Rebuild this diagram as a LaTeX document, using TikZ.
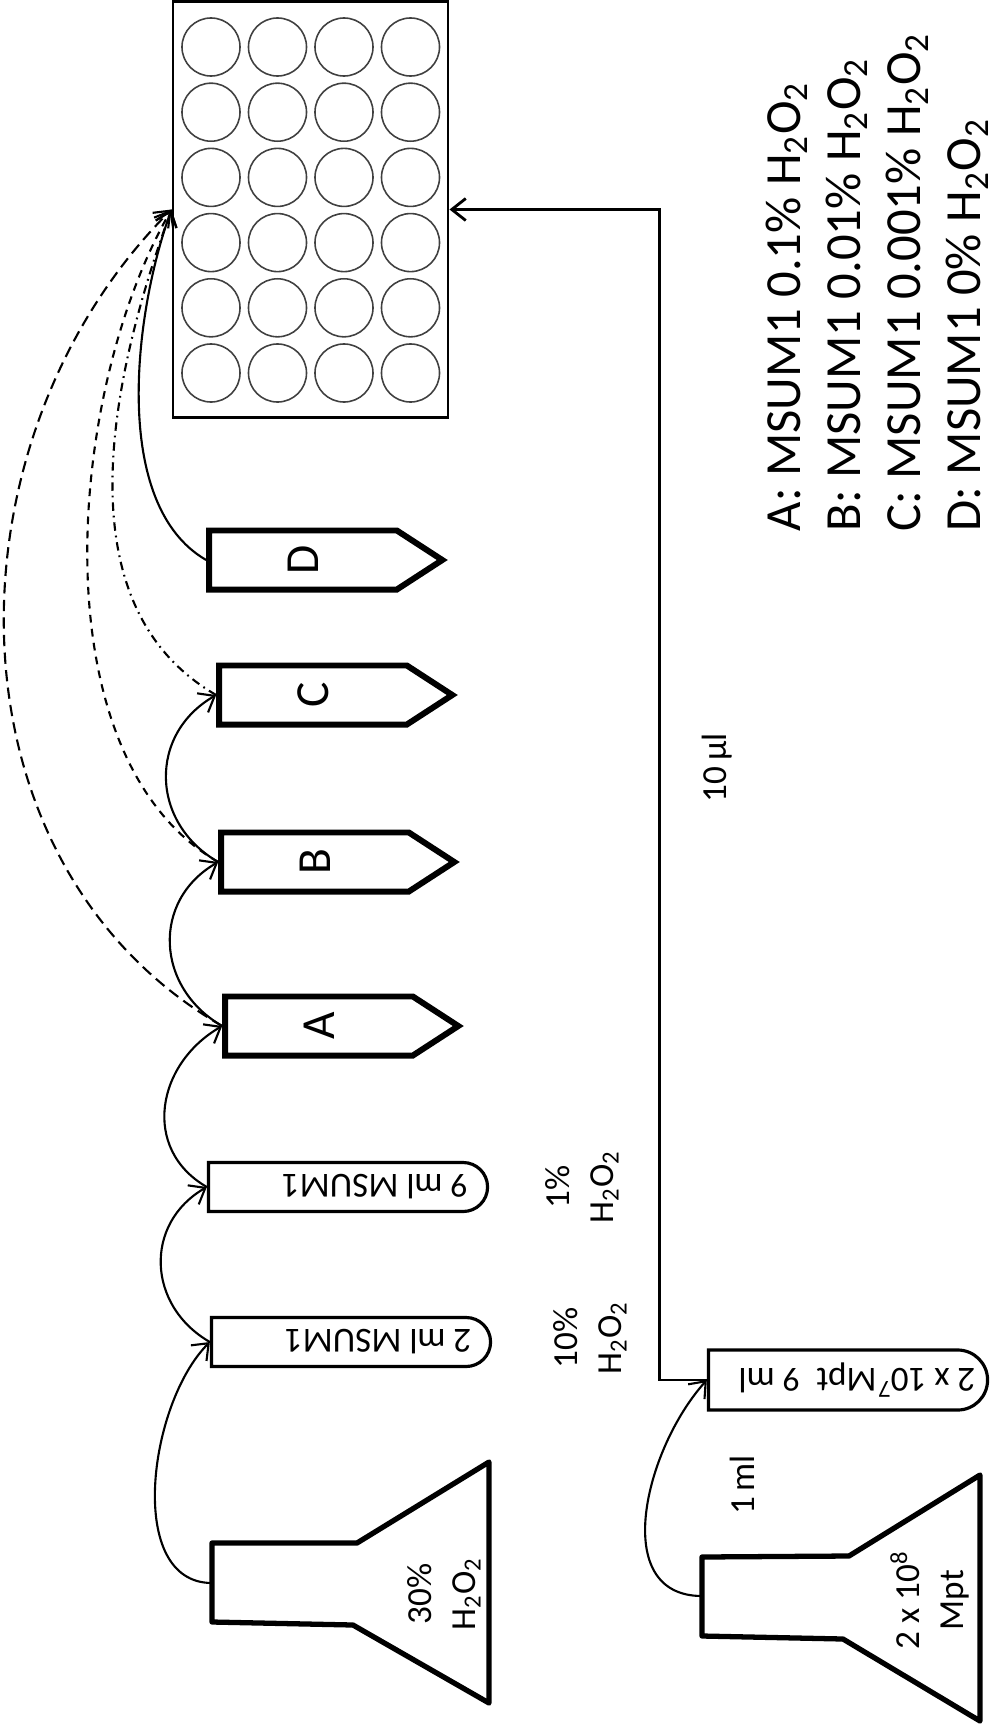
\documentclass[tikz,border=0pt]{standalone}
\usepackage{fontspec}
\setmainfont{Carlito}
\usetikzlibrary{shapes.symbols, shapes.misc, arrows.meta, positioning}
\tikzset{
  plate/.style={rectangle, draw, line width=0.8pt, minimum width=2.75cm,
                minimum height=4.15cm, inner sep=0pt},
  well/.style={draw=black!75, line width=0.45pt},
  ptube/.style={signal, signal to=east, signal pointer angle=66, draw,
                line width=1.7pt, minimum width=2.33cm, minimum height=0.59cm,
                inner sep=0pt, font=\fontsize{13.5}{16}\selectfont},
  rtube/.style={rounded rectangle, rounded rectangle left arc=none, draw,
                line width=0.9pt, minimum width=2.79cm, minimum height=0.49cm,
                inner sep=0pt},
  tubetext/.style={inner sep=0pt, font=\fontsize{10}{12}\selectfont},
  flask/.style={line width=1.5pt, line join=round},
  lbl/.style={rotate=90, align=center, inner sep=0pt,
              font=\fontsize{10}{12.5}\selectfont},
  key/.style={rotate=90, align=left, inner sep=0pt,
              font=\fontsize{14.4}{17.1}\selectfont},
  flow/.style={-{Straight Barb[length=1.4mm, width=2.2mm]}, line width=0.6pt},
  % --- line patterns for the transfers into the plate ---
  longdash/.style={flow, dash pattern=on 3.2pt off 1.8pt},
  shortdash/.style={flow, dash pattern=on 2.2pt off 1.8pt},
  dashdot/.style={flow, dash pattern=on 2.4pt off 1.4pt on 0.5pt off 1.4pt},
}

\begin{document}
\begin{tikzpicture}[x=0.01cm, y=-0.01cm]
  \useasboundingbox (0,0) rectangle (996,1730);

  % well plate
  \node[plate] (plate) at (310.5,209.5) {};
  \foreach \col in {0,...,3}
    \foreach \row in {0,...,5}
      \draw[well] ({211+66.5*\col},{47+65.2*\row}) circle[radius=0.29cm];

  % dilution tubes
  \node[ptube] (tD) at (303,560) {\rotatebox{90}{D}};
  \node[ptube] (tC) at (313,695) {\rotatebox{90}{C}};
  \node[ptube] (tB) at (315,862) {\rotatebox{90}{B}};
  \node[ptube] (tA) at (319,1026) {\rotatebox{90}{A}};

  \node[rtube] (t9) at (348,1187) {};
  \node[rtube] (t2) at (351,1342) {};
  \node[rtube, minimum height=0.6cm] (tM) at (848,1380) {};
  \node[tubetext, anchor=east] at ([xshift=-0.2cm]t9.east) {\rotatebox{180}{9 ml MSUM1}};
  \node[tubetext, anchor=east] at ([xshift=-0.2cm]t2.east) {\rotatebox{180}{2 ml MSUM1}};
  \node[tubetext, anchor=east] at ([xshift=-0.13cm]tM.east)
    {\rotatebox{180}{2 x 10\textsuperscript{7}Mpt\ \ 9 ml}};

  % flasks
  \draw[flask] (212,1543) -- (357,1543) -- (489,1462) -- (489,1703)
    -- (353,1625) -- (212,1622) -- cycle;
  \draw[flask] (702,1557) -- (849,1556) -- (980,1475) -- (980,1721)
    -- (843,1639) -- (702,1636) -- cycle;
  \node[lbl] (f30) at (444,1594) {30\%\\H\textsubscript{2}O\textsubscript{2}};
  \node[lbl] (fM) at (930,1600) {2 x 10\textsuperscript{8}\\Mpt};
  \coordinate (f30in) at (212,1583);
  \coordinate (fMin) at (702,1596);

  % labels
  \node[lbl] (c10) at (590,1338) {10\%\\H\textsubscript{2}O\textsubscript{2}};
  \node[lbl] (c1) at (582,1187) {1\%\\H\textsubscript{2}O\textsubscript{2}};
  \node[lbl] (v1) at (742,1485) {1\,ml};
  \node[lbl] (v10) at (717,768) {10\,µl};
  \node[key, anchor=north west] (legend) at (765,532)
    {A: MSUM1 0.1\% H\textsubscript{2}O\textsubscript{2}\\
     B: MSUM1 0.01\% H\textsubscript{2}O\textsubscript{2}\\
     C: MSUM1 0.001\% H\textsubscript{2}O\textsubscript{2}\\
     D: MSUM1 0\% H\textsubscript{2}O\textsubscript{2}};

  % serial dilution
  \draw[flow] (f30in) to[out=180, in=225, looseness=0.92] (t2.west);
  \draw[flow] (t2.west) to[out=150, in=210, looseness=1.2] (t9.west);
  \draw[flow] (t9.west) to[out=150, in=210, looseness=1.2] (tA.west);
  \draw[flow] (tA.west) to[out=150, in=210, looseness=1.2] (tB.west);
  \draw[flow] (tB.west) to[out=150, in=210, looseness=1.2] (tC.west);
  \draw[flow] (fMin) to[out=180, in=228, looseness=1.1] (tM.west);

  % into the plate
  \draw[longdash] (tA.west) to[out=150, in=225, looseness=1.02] (plate.west);
  \draw[shortdash] (tB.west) to[out=150, in=240, looseness=0.82] (plate.west);
  \draw[dashdot] (tC.west) to[out=150, in=250, looseness=0.94] (plate.west);
  \draw[flow] (tD.west) to[out=150, in=250, looseness=0.8] (plate.west);
  \draw[flow, line width=0.8pt] (tM.west) -- ++(-47,0) |- (plate.east);
\end{tikzpicture}
\end{document}
